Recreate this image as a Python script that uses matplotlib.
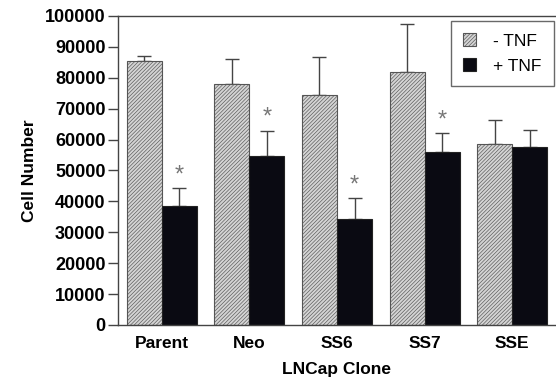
import matplotlib
matplotlib.use("Agg")
import matplotlib.pyplot as plt
import numpy as np

plt.rcParams['hatch.color'] = '#aaaaaa'
plt.rcParams['hatch.linewidth'] = 0.45

categories = ["Parent", "Neo", "SS6", "SS7", "SSE"]
minus_tnf = [85400, 77900, 74400, 81800, 58500]
minus_err = [1700, 8100, 12400, 15500, 8000]
plus_tnf = [38500, 54700, 34300, 56100, 57600]
plus_err = [5800, 8200, 6800, 5900, 5500]
significant = [True, True, True, True, False]
yticks = list(range(0, 100001, 10000))

fig = plt.figure(figsize=(5.56, 3.88), dpi=100)
ax = fig.add_axes([0.2122, 0.1624, 0.7878, 0.7964])

x = np.arange(len(categories))
w = 0.4
font = 'Liberation Sans'

ax.bar(x - w/2, minus_tnf, w, color='#d4d4d4', edgecolor='#555555', linewidth=0.8,
       hatch='/////////', label='- TNF', zorder=2)
ax.bar(x + w/2, plus_tnf, w, color='#0a0a12', edgecolor='#222222', linewidth=0.8,
       label='+ TNF', zorder=2)
ax.errorbar(x - w/2, minus_tnf, yerr=[np.zeros(5), minus_err], fmt='none',
            ecolor='#444444', elinewidth=1, capsize=5, capthick=1, zorder=1)
ax.errorbar(x + w/2, plus_tnf, yerr=[np.zeros(5), plus_err], fmt='none',
            ecolor='#444444', elinewidth=1, capsize=5, capthick=1, zorder=1)
for xi, v, e, s in zip(x, plus_tnf, plus_err, significant):
    if s:
        ax.text(xi + w/2, v + e + 600, '*', ha='center', va='bottom',
                fontsize=17, color='#777777', family=font)

ax.set_xlim(-0.5, 4.5)
ax.set_ylim(0, 100000)
ax.set_yticks(yticks)
ax.set_yticklabels([str(t) for t in yticks], fontsize=13, fontweight='bold', family=font)
ax.set_xticks(x)
ax.set_xticklabels(categories, fontsize=12.5, fontweight='bold', family=font)
ax.tick_params(axis='x', length=0, pad=8)
ax.tick_params(axis='y', length=7, width=1, color='#444444', pad=2)
ax.spines['right'].set_visible(False)
for s in ['left', 'bottom', 'top']:
    ax.spines[s].set_color('#444444')
    ax.spines[s].set_linewidth(1)

ax.set_xlabel('LNCap Clone', fontsize=12.5, fontweight='bold', family=font, labelpad=8)
ax.set_ylabel('Cell Number', fontsize=12.5, fontweight='bold', family=font, labelpad=6)

leg = ax.legend(loc='upper right', bbox_to_anchor=(0.9945, 0.983),
                prop={'family': font, 'size': 12.5}, frameon=True, fancybox=False,
                edgecolor='#444444', handlelength=0.75, handleheight=0.75,
                borderpad=0.7, labelspacing=0.55, handletextpad=1.0, borderaxespad=0.0)
leg.get_frame().set_linewidth(1)

fig.savefig('out.png', dpi=100)
